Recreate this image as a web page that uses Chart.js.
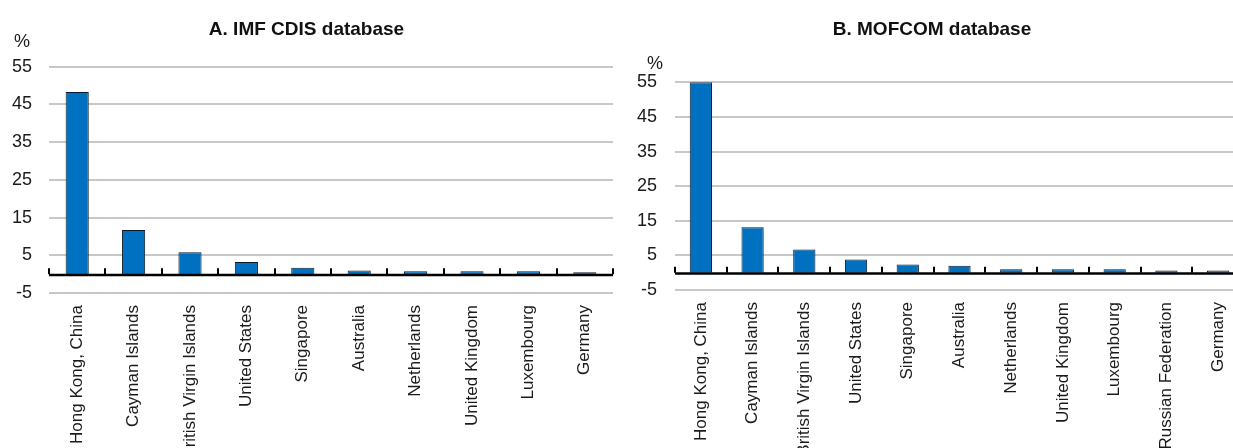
<!DOCTYPE html>
<html>
<head>
<meta charset="utf-8">
<script src="https://cdn.jsdelivr.net/npm/chart.js@4/dist/chart.umd.min.js"></script>
<style>
  html, body { margin: 0; padding: 0; background: #fff; overflow: hidden; width: 1233px; height: 448px; }
  .panel { position: absolute; top: 0; }
  #panelA { left: 0; }
  #panelB { left: 620px; }
</style>
</head>
<body>
<div class="panel" id="panelA"><canvas id="chartA" width="644" height="448"></canvas></div>
<div class="panel" id="panelB"><canvas id="chartB" width="658" height="448"></canvas></div>
<script>
// data (share of total, %)
const categoriesA = ['Hong Kong, China', 'Cayman Islands', 'British Virgin Islands', 'United States',
  'Singapore', 'Australia', 'Netherlands', 'United Kingdom', 'Luxembourg', 'Germany'];
const valuesA = [48.3, 11.7, 5.8, 3.2, 1.7, 1.0, 0.8, 0.8, 0.8, 0.5];

const categoriesB = ['Hong Kong, China', 'Cayman Islands', 'British Virgin Islands', 'United States',
  'Singapore', 'Australia', 'Netherlands', 'United Kingdom', 'Luxembourg', 'Russian Federation', 'Germany'];
const valuesB = [55, 13.1, 6.7, 3.8, 2.4, 2.0, 1.0, 1.0, 1.0, 0.6, 0.6];

const yTicks = [-5, 5, 15, 25, 35, 45, 55];

const BLUE = '#0070c0';
const FONT = "'Liberation Sans', Arial, sans-serif";

// black zero line with small upward ticks between categories, plus the "%" unit label
const zeroAxis = {
  id: 'zeroAxis',
  afterDatasetsDraw(chart, args, opts) {
    const { ctx, chartArea } = chart;
    const xs = chart.scales.x, ys = chart.scales.y;
    const y0 = ys.getPixelForValue(0);
    const n = chart.data.labels.length;
    const step = (xs.right - xs.left) / n;
    ctx.save();
    ctx.strokeStyle = '#000';
    ctx.lineWidth = 2.5;
    ctx.beginPath();
    ctx.moveTo(chartArea.left, y0 + 0.8);
    ctx.lineTo(chartArea.right, y0 + 0.8);
    ctx.stroke();
    ctx.lineWidth = 2;
    ctx.beginPath();
    for (let i = 0; i <= n; i++) {
      const px = Math.round(xs.left + i * step);
      ctx.moveTo(px, y0);
      ctx.lineTo(px, y0 - 6);
    }
    ctx.stroke();

    ctx.fillStyle = '#1a1a1a';
    ctx.font = '18px ' + FONT;
    ctx.textAlign = 'center';
    ctx.textBaseline = 'alphabetic';
    ctx.fillText('%', chartArea.left + opts.unitDx, ys.getPixelForValue(55) - opts.unitDy);
    ctx.restore();
  }
};

function makeChart(id, title, labels, values, cfg) {
  return new Chart(document.getElementById(id), {
    type: 'bar',
    data: {
      labels: labels,
      datasets: [{
        data: values,
        backgroundColor: BLUE,
        borderColor: '#0b1a2a',
        borderWidth: 1,
        categoryPercentage: 1,
        barPercentage: cfg.barPct
      }]
    },
    options: {
      responsive: false,
      animation: false,
      devicePixelRatio: 1,
      layout: { padding: { left: 0, right: cfg.padRight, top: 0, bottom: 0 } },
      plugins: {
        legend: { display: false },
        tooltip: { enabled: false },
        title: {
          display: true,
          text: title,
          color: '#111',
          font: { family: FONT, size: 19, weight: 'bold' },
          padding: { top: 18, bottom: cfg.titleBottom }
        },
        zeroAxis: { unitDx: cfg.unitDx, unitDy: cfg.unitDy }
      },
      scales: {
        x: {
          grid: { display: false },
          border: { display: false },
          ticks: {
            autoSkip: false,
            minRotation: 90,
            maxRotation: 90,
            padding: 4,
            color: '#1a1a1a',
            font: { family: FONT, size: 17 }
          },
          afterFit(scale) { scale.height = cfg.xHeight; }
        },
        y: {
          min: -5,
          max: 55,
          afterBuildTicks(scale) { scale.ticks = yTicks.map(v => ({ value: v })); },
          grid: { color: '#c8c8c8', lineWidth: 2, drawTicks: false },
          border: { display: false },
          ticks: {
            padding: cfg.yPad,
            color: '#1a1a1a',
            font: { family: FONT, size: 18 }
          },
          afterFit(scale) { scale.width = cfg.yWidth; }
        }
      }
    },
    plugins: [zeroAxis]
  });
}

makeChart('chartA', 'A. IMF CDIS database', categoriesA, valuesA, {
  barPct: 0.41, padRight: 31, titleBottom: 26, xHeight: 155, yWidth: 49, yPad: 17, unitDx: -27, unitDy: 20
});
makeChart('chartB', 'B. MOFCOM database', categoriesB, valuesB, {
  barPct: 0.43, padRight: 34, titleBottom: 41.5, xHeight: 158, yWidth: 55, yPad: 18, unitDx: -20, unitDy: 13
});
</script>
</body>
</html>
